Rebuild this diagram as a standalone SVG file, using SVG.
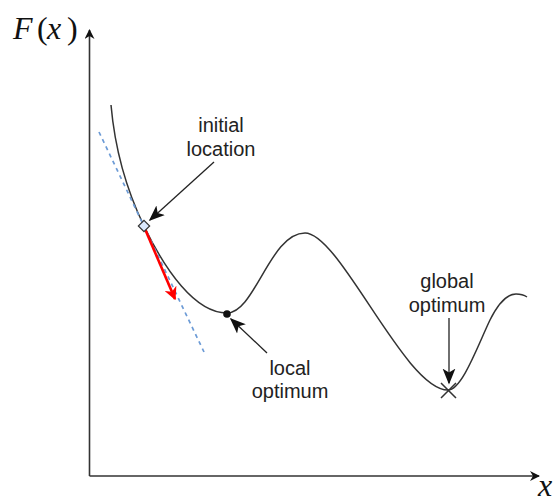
<svg xmlns="http://www.w3.org/2000/svg" width="558" height="504" viewBox="0 0 558 504">
<style>
.lbl{font-family:"Liberation Sans",Arial,sans-serif;font-size:20px;fill:#222;text-anchor:middle}
.math{font-family:"Liberation Serif","DejaVu Serif",serif;font-size:32px;fill:#111}
.ax{stroke:#333;stroke-width:1.6;fill:none}
.ptr{stroke:#222;stroke-width:1.3;fill:none}
</style>
<defs>
<marker id="ah" viewBox="0 0 10 10" refX="9" refY="5" markerWidth="10" markerHeight="10" markerUnits="userSpaceOnUse" orient="auto">
<path d="M0,0 L10,5 L0,10 L3,5 Z" fill="#111"/>
</marker>
<marker id="ahs" viewBox="0 0 10 10" refX="9" refY="5" markerWidth="16" markerHeight="16" markerUnits="userSpaceOnUse" orient="auto">
<path d="M0,1 L10,5 L0,9 L2.5,5 Z" fill="#111"/>
</marker>
<marker id="ahr" viewBox="0 0 10 10" refX="9" refY="5" markerWidth="13" markerHeight="13" markerUnits="userSpaceOnUse" orient="auto">
<path d="M0,0 L10,5 L0,10 L3,5 Z" fill="#ff0000"/>
</marker>
</defs>
<g id="axes">
<path class="ax" d="M89.5,476 L89.5,30" marker-end="url(#ah)"/>
<path class="ax" d="M89.5,476 L539,476" marker-end="url(#ah)"/>
<text class="math" y="39"><tspan x="13" font-style="italic">F</tspan><tspan x="37">(</tspan><tspan x="47" font-style="italic">x</tspan><tspan x="67">)</tspan></text>
<text class="math" x="538" y="496" font-size="26" font-style="italic">x</text>
</g>
<g id="curve">
<path d="M111,105 C115,150 128,193 144,226 C165,270 195,313 227,313 C255,313 270,233 305,233 C340,233 405,390 448,390 C462,390 478,345 490,320 C500,300 508,294 516,294 C520,294 524,295 527,297" stroke="#333" stroke-width="1.5" fill="none"/>
</g>
<g id="tangent">
<path d="M99,132 L204,352" stroke="#6c9bd6" stroke-width="1.7" stroke-dasharray="4,4" fill="none"/>
</g>
<g id="connectors">
<path d="M145,229 L175,299" stroke="#ff0000" stroke-width="2.6" fill="none" marker-end="url(#ahr)"/>
<path class="ptr" d="M214,162 L150,220" marker-end="url(#ahs)"/>
<path class="ptr" d="M267,353 L231,319" marker-end="url(#ahs)"/>
<path class="ptr" d="M449,318 L449,383" marker-end="url(#ahs)"/>
</g>
<g id="initial-location">
<rect x="140" y="222" width="8" height="8" transform="rotate(45 144 226)" fill="#dae8fc" stroke="#333" stroke-width="1.2"/>
<text class="lbl" x="221" y="132">initial</text>
<text class="lbl" x="221" y="156">location</text>
</g>
<g id="local-optimum">
<circle cx="227" cy="314" r="3.8" fill="#111"/>
<text class="lbl" x="290" y="375">local</text>
<text class="lbl" x="290" y="398">optimum</text>
</g>
<g id="global-optimum">
<path d="M441,383 L456,398 M456,383 L441,398" stroke="#333" stroke-width="1.5"/>
<text class="lbl" x="447" y="288">global</text>
<text class="lbl" x="447" y="312">optimum</text>
</g>
</svg>
